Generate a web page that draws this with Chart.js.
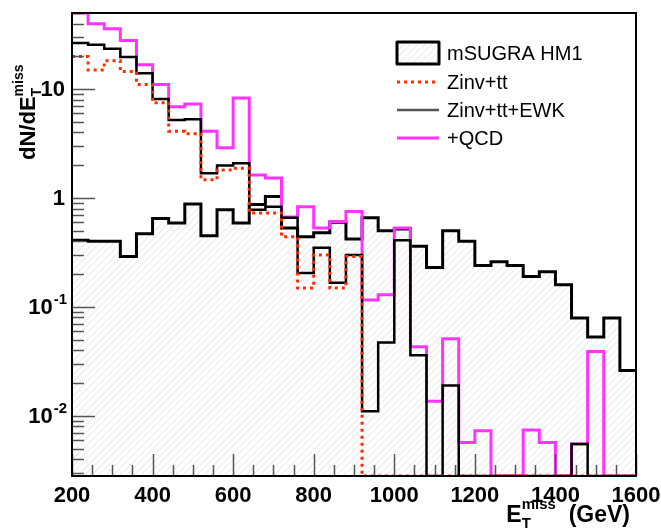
<!DOCTYPE html>
<html>
<head>
<meta charset="utf-8">
<script src="https://cdn.jsdelivr.net/npm/chart.js@4.4.1/dist/chart.umd.min.js"></script>
<style>
  html, body { margin: 0; padding: 0; background: #fff; }
  #wrap { width: 661px; height: 528px; }
</style>
</head>
<body>
<div id="wrap"><canvas id="met" width="661" height="528"></canvas></div>
<script>
// lower edge of each 40 GeV bin
const binLow = [200, 240, 280, 320, 360, 400, 440, 480, 520, 560,
                600, 640, 680, 720, 760, 800, 840, 880, 920, 960,
                1000, 1040, 1080, 1120, 1160, 1200, 1240, 1280, 1320, 1360,
                1400, 1440, 1480, 1520, 1560];
const msugra = [0.41, 0.40, 0.40, 0.29, 0.47, 0.65, 0.59, 0.88, 0.45, 0.78,
                0.59, 0.87, 1.03, 0.53, 0.44, 0.48, 0.60, 0.42, 0.66, 0.50,
                0.52, 0.36, 0.23, 0.50, 0.40, 0.24, 0.26, 0.24, 0.19, 0.21,
                0.16, 0.079, 0.053, 0.079, 0.026];
const zinvTt = [19.9, 15.0, 18.2, 14.5, 11.0, 7.5, 4.1, 3.9, 1.47, 1.81,
                1.88, 0.73, 0.73, 0.44, 0.149, 0.30, 0.149, 0.29, 0, 0,
                0, 0, 0, 0, 0, 0, 0, 0, 0, 0,
                0, 0, 0, 0, 0];
const zinvTtEwk = [26.5, 25.5, 23.5, 19.7, 14.0, 8.1, 5.2, 5.3, 1.69, 1.99,
                   2.09, 0.78, 0.83, 0.66, 0.205, 0.35, 0.167, 0.30, 0.011, 0.047,
                   0.41, 0.036, 0, 0.019, 0, 0, 0, 0, 0, 0,
                   0, 0.0055, 0, 0, 0];
const plusQcd = [50, 39.8, 35.8, 28.0, 16.7, 11.0, 6.9, 7.3, 4.1, 2.9,
                 8.3, 1.63, 1.53, 0.67, 0.83, 0.53, 0.61, 0.75, 0.116, 0.129,
                 0.53, 0.043, 0.0136, 0.051, 0.0057, 0.0073, 0, 0, 0.0074, 0.0057,
                 0, 0.0055, 0.039, 0, 0];
const labels = ['mSUGRA HM1', 'Zinv+tt', 'Zinv+tt+EWK', '+QCD'];

const xTickLabels = ['200', '400', '600', '800', '1000', '1200', '1400', '1600'];
const yMajor = [0.01, 0.1, 1, 10];
const yMajorBase = ['10', '10', '1', '10'];
const yMajorExp = ['-2', '-1', '', ''];

const X_MIN = 200, X_MAX = 1600, Y_MIN = 0.0028, Y_MAX = 50;
const FONT = '"Liberation Sans", Arial, Helvetica, sans-serif';

// histogram outline: one point per lower edge + closing point at the upper edge
function steps(vals) {
  const pts = binLow.map((x, i) => ({ x: x, y: vals[i] > 0 ? vals[i] : Y_MIN }));
  pts.push({ x: X_MAX, y: pts[pts.length - 1].y });
  return pts;
}

const canvas = document.getElementById('met');
const ctx0 = canvas.getContext('2d');

function makeHatch() {
  const c = document.createElement('canvas');
  c.width = 7; c.height = 7;
  const g = c.getContext('2d');
  g.strokeStyle = '#e6e6e6';
  g.lineWidth = 1;
  g.beginPath();
  g.moveTo(0, 7); g.lineTo(7, 0);
  g.moveTo(-2, 2); g.lineTo(2, -2);
  g.moveTo(5, 9); g.lineTo(9, 5);
  g.stroke();
  return ctx0.createPattern(c, 'repeat');
}
const hatch = makeHatch();

const lineStyle = [
  { color: '#000000', width: 3, dash: [] },
  { color: '#ff2a00', width: 3, dash: [3, 4] },
  { color: '#000000', width: 2.5, dash: [] },
  { color: '#ff33ff', width: 3, dash: [] }
];

// frame, inside ticks, labels, titles and legend
const decorations = {
  id: 'decorations',
  afterDraw(chart) {
    const { ctx, chartArea: a, scales: { x, y } } = chart;
    ctx.save();

    ctx.strokeStyle = '#555';
    ctx.lineWidth = 1.5;
    ctx.beginPath();
    for (let v = X_MIN; v <= X_MAX; v += 50) {
      const px = Math.round(x.getPixelForValue(v)) + 0.5;
      const len = v % 200 === 0 ? 22 : 11;
      ctx.moveTo(px, a.bottom);
      ctx.lineTo(px, a.bottom - len);
    }
    for (let d = -3; d <= 1; d++) {
      for (let m = 1; m <= 9; m++) {
        const v = m * Math.pow(10, d);
        if (v < Y_MIN || v > Y_MAX) continue;
        const py = Math.round(y.getPixelForValue(v)) + 0.5;
        const len = m === 1 ? 23 : 12;
        ctx.moveTo(a.left, py);
        ctx.lineTo(a.left + len, py);
      }
    }
    ctx.stroke();

    ctx.strokeStyle = '#000';
    ctx.lineWidth = 2;
    ctx.strokeRect(a.left, a.top, a.right - a.left, a.bottom - a.top);

    // x tick labels
    ctx.fillStyle = '#000';
    ctx.font = 'bold 22px ' + FONT;
    ctx.textAlign = 'center';
    ctx.textBaseline = 'middle';
    xTickLabels.forEach(t => {
      ctx.fillText(t, x.getPixelForValue(Number(t)), 496);
    });

    // y tick labels
    yMajor.forEach((v, i) => {
      const py = y.getPixelForValue(v);
      ctx.font = 'bold 15px ' + FONT;
      const ew = yMajorExp[i] ? ctx.measureText(yMajorExp[i]).width : 0;
      const right = 67;
      ctx.textAlign = 'left';
      ctx.textBaseline = 'alphabetic';
      if (yMajorExp[i]) ctx.fillText(yMajorExp[i], right - ew, py - 3);
      ctx.font = 'bold 22px ' + FONT;
      ctx.textAlign = 'right';
      ctx.textBaseline = 'middle';
      ctx.fillText(yMajorBase[i], right - ew - (ew ? 1 : 2), py + 1);
    });

    // x title
    ctx.textAlign = 'left';
    ctx.textBaseline = 'alphabetic';
    ctx.font = 'bold 23px ' + FONT;
    const wE = ctx.measureText('E').width;
    const wG = ctx.measureText('  (GeV)').width;
    ctx.font = 'bold 15px ' + FONT;
    const wM = ctx.measureText('miss').width;
    const tx = 630 - (wE + wM + wG);
    const ty = 522;
    ctx.font = 'bold 23px ' + FONT;
    ctx.fillText('E', tx, ty);
    ctx.font = 'bold 15px ' + FONT;
    ctx.fillText('T', tx + wE, ty + 6);
    ctx.fillText('miss', tx + wE, ty - 13);
    ctx.font = 'bold 23px ' + FONT;
    ctx.fillText('  (GeV)', tx + wE + wM, ty);

    // y title (rotated)
    ctx.save();
    ctx.translate(35, 160);
    ctx.rotate(-Math.PI / 2);
    ctx.font = 'bold 22px ' + FONT;
    ctx.fillText('dN/dE', 0, 0);
    const wY = ctx.measureText('dN/dE').width;
    ctx.font = 'bold 14px ' + FONT;
    ctx.fillText('T', wY, 6);
    ctx.fillText('miss', wY, -12);
    ctx.restore();

    // legend
    const lx = 397, lw = 42, textX = 447;
    const rows = [53, 82, 110, 138];
    ctx.fillStyle = hatch;
    ctx.fillRect(lx, rows[0] - 11, lw, 22);
    ctx.strokeStyle = '#000';
    ctx.lineWidth = 3;
    ctx.lineJoin = 'round';
    ctx.strokeRect(lx, rows[0] - 11, lw, 22);
    for (let i = 1; i < 4; i++) {
      const s = lineStyle[i];
      ctx.strokeStyle = i === 2 ? '#555' : s.color;
      ctx.lineWidth = s.width;
      ctx.setLineDash(s.dash);
      ctx.beginPath();
      ctx.moveTo(lx, rows[i]);
      ctx.lineTo(lx + lw, rows[i]);
      ctx.stroke();
    }
    ctx.setLineDash([]);
    ctx.fillStyle = '#000';
    ctx.font = '20px ' + FONT;
    ctx.textAlign = 'left';
    ctx.textBaseline = 'middle';
    labels.forEach((t, i) => ctx.fillText(t, textX, rows[i] + 1));

    ctx.restore();
  }
};

const series = [msugra, zinvTt, zinvTtEwk, plusQcd];
const drawOrder = [4, 1, 2, 3];

new Chart(canvas, {
  type: 'line',
  data: {
    datasets: series.map((vals, i) => ({
      label: labels[i],
      data: steps(vals),
      stepped: true,
      borderColor: lineStyle[i].color,
      borderWidth: lineStyle[i].width,
      borderDash: lineStyle[i].dash,
      borderCapStyle: 'butt',
      borderJoinStyle: 'miter',
      backgroundColor: i === 0 ? hatch : 'transparent',
      fill: i === 0 ? 'start' : false,
      pointRadius: 0,
      order: drawOrder[i],
      clip: 0
    }))
  },
  options: {
    responsive: false,
    animation: false,
    devicePixelRatio: 1,
    layout: { padding: { left: 72, top: 13, right: 25, bottom: 52 } },
    plugins: { legend: { display: false }, tooltip: { enabled: false } },
    scales: {
      x: { type: 'linear', min: X_MIN, max: X_MAX, display: false },
      y: { type: 'logarithmic', min: Y_MIN, max: Y_MAX, display: false }
    }
  },
  plugins: [decorations]
});
</script>
</body>
</html>
